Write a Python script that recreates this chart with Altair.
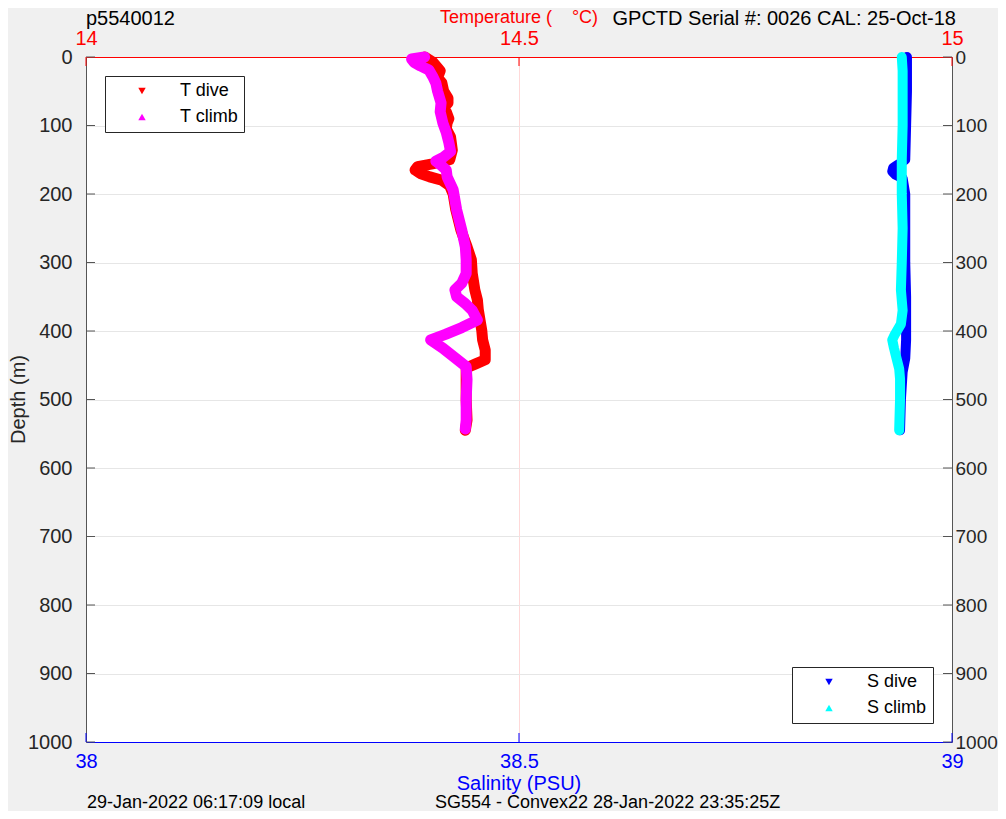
import altair as alt
import pandas as pd

FONT = "Liberation Sans"

# ---- axis ticks ----
depth_ticks = [0, 100, 200, 300, 400, 500, 600, 700, 800, 900, 1000]
temp_ticks = [14, 14.5, 15]
sal_ticks = [38, 38.5, 39]

# ---- legend categories ----
t_series = ["T dive", "T climb"]
s_series = ["S dive", "S climb"]
t_colors = ["#ff0000", "#ff00ff"]
s_colors = ["#0000ff", "#00ffff"]
tri_shapes = ["triangle-down", "triangle-up"]

# ---- temperature, dive ----
t_dive_depth = [0, 8, 20, 30, 38, 50, 60, 67, 75, 80, 90, 96, 105, 117, 136, 150, 156, 160,
                165, 170, 175, 180, 188, 200, 223, 253, 277, 296, 316, 340, 355, 369, 384,
                399, 413, 428, 442, 448, 454, 471, 500, 530, 545]
t_dive_temp = [14.391, 14.401, 14.409, 14.406, 14.411, 14.413, 14.418, 14.418, 14.412, 14.416,
               14.419, 14.417, 14.416, 14.421, 14.423, 14.420, 14.400, 14.383, 14.380, 14.386,
               14.397, 14.411, 14.420, 14.424, 14.427, 14.433, 14.440, 14.445, 14.446, 14.449,
               14.452, 14.453, 14.455, 14.457, 14.458, 14.461, 14.461, 14.450, 14.439, 14.439,
               14.439, 14.440, 14.438]

# ---- temperature, climb ----
t_climb_depth = [0, 3, 8, 13, 19, 30, 38, 50, 67, 80, 96, 110, 125, 138, 146, 152, 158, 165,
                 175, 194, 223, 253, 277, 296, 316, 330, 340, 350, 360, 370, 384, 395, 405,
                 413, 425, 440, 452, 471, 500, 530, 543]
t_climb_temp = [14.391, 14.376, 14.379, 14.386, 14.396, 14.401, 14.404, 14.406, 14.410, 14.409,
                14.412, 14.416, 14.419, 14.421, 14.413, 14.404, 14.410, 14.416, 14.417, 14.424,
                14.428, 14.434, 14.438, 14.439, 14.439, 14.434, 14.426, 14.428, 14.438, 14.446,
                14.452, 14.434, 14.415, 14.398, 14.412, 14.427, 14.439, 14.440, 14.439, 14.439,
                14.438]

# ---- salinity, dive ----
s_dive_depth = [0, 50, 100, 150, 157, 162, 167, 172, 177, 200, 250, 300, 350, 390, 413, 440,
                460, 500, 545]
s_dive_sal = [38.948, 38.948, 38.947, 38.946, 38.938, 38.932, 38.931, 38.935, 38.943, 38.946,
              38.946, 38.946, 38.947, 38.947, 38.947, 38.946, 38.943, 38.941, 38.940]

# ---- salinity, climb ----
s_climb_depth = [0, 20, 50, 100, 150, 200, 250, 300, 340, 370, 390, 405, 413, 425, 440, 455,
                 470, 500, 545]
s_climb_sal = [38.942, 38.943, 38.943, 38.943, 38.942, 38.942, 38.943, 38.942, 38.941, 38.943,
               38.941, 38.934, 38.931, 38.933, 38.936, 38.939, 38.940, 38.940, 38.939]

W, H = 866, 685

td = pd.DataFrame({"depth": t_dive_depth, "temp": t_dive_temp, "series": "T dive"})
tc = pd.DataFrame({"depth": t_climb_depth, "temp": t_climb_temp, "series": "T climb"})
sd = pd.DataFrame({"depth": s_dive_depth, "sal": s_dive_sal, "series": "S dive"})
sc = pd.DataFrame({"depth": s_climb_depth, "sal": s_climb_sal, "series": "S climb"})
t_all = pd.concat([td, tc], ignore_index=True)
s_all = pd.concat([sd, sc], ignore_index=True)


def y_sc():
    return alt.Scale(domain=[0, 1000], reverse=True, nice=False, zero=False)


def t_sc():
    return alt.Scale(domain=[14, 15], nice=False, zero=False)


def s_sc():
    return alt.Scale(domain=[38, 39], nice=False, zero=False)


common_axis = dict(title=None, ticks=False, tickSize=0, labelFlush=False, labelOverlap=False,
                   labelFont=FONT, domainWidth=1)

y_left = alt.Y("depth:Q", scale=y_sc(),
               axis=alt.Axis(orient="left", values=depth_ticks, format="d", grid=True,
                             gridColor="#e6e6e6", labelPadding=14, labelColor="#262626",
                             domainColor="#555555", labelFontSize=20, **common_axis))
y_right = alt.Y("depth:Q", scale=y_sc(),
                axis=alt.Axis(orient="right", values=depth_ticks, format="d", grid=False,
                              labelPadding=3, labelColor="#262626", domainColor="#555555",
                              labelFontSize=19, **common_axis))
x_top = alt.X("temp:Q", scale=t_sc(),
              axis=alt.Axis(orient="top", values=temp_ticks, format="~g", grid=True,
                            gridColor="#ffd9d9", labelPadding=9, labelColor="#ff0000",
                            domainColor="#ff0000", labelFontSize=20, **common_axis))
x_bottom = alt.X("sal:Q", scale=s_sc(),
                 axis=alt.Axis(orient="bottom", values=sal_ticks, format="~g", grid=False,
                               labelPadding=9, labelColor="#0000ff",
                               domainColor="#0000ff", labelFontSize=20, **common_axis))


def y_plain():
    return alt.Y("depth:Q", scale=y_sc(), axis=None)


def xt_plain():
    return alt.X("temp:Q", scale=t_sc(), axis=None)


def xs_plain():
    return alt.X("sal:Q", scale=s_sc(), axis=None)


def make_legend(orient):
    return alt.Legend(orient=orient, offset=19, title=None, fillColor="white",
                      strokeColor="#262626", padding=6, rowPadding=8, symbolSize=55,
                      symbolOffset=22, labelOffset=29, labelFont=FONT, labelFontSize=18,
                      labelColor="#000000", symbolStrokeWidth=0, symbolOpacity=1)


# ---------- temperature ----------
t_dive_line = alt.Chart(td).mark_line(color="#ff0000", strokeWidth=11, strokeCap="round",
                                      strokeJoin="round").encode(
    x=x_top, y=y_left, order="depth:Q")
t_climb_line = alt.Chart(tc).mark_line(color="#ff00ff", strokeWidth=11, strokeCap="round",
                                       strokeJoin="round").encode(
    x=xt_plain(), y=y_plain(), order="depth:Q")
t_leg = alt.Chart(t_all).transform_filter("false").mark_point(filled=True).encode(
    x=xt_plain(), y=y_plain(),
    color=alt.Color("series:N", scale=alt.Scale(domain=t_series, range=t_colors),
                    legend=make_legend("top-left")),
    shape=alt.Shape("series:N", scale=alt.Scale(domain=t_series, range=tri_shapes),
                    legend=make_legend("top-left")))
left_ticks = alt.Chart(pd.DataFrame({"depth": depth_ticks})).mark_rule(
    color="#555555", strokeWidth=1).encode(y=y_plain(), x=alt.value(0), x2=alt.value(9))
top_ticks = alt.Chart(pd.DataFrame({"temp": temp_ticks})).mark_rule(
    color="#ff0000", strokeWidth=1).encode(x=xt_plain(), y=alt.value(0), y2=alt.value(9))

# ---------- salinity ----------
s_dive_line = alt.Chart(sd).mark_line(color="#0000ff", strokeWidth=10, strokeCap="round",
                                      strokeJoin="round").encode(
    x=x_bottom, y=y_right, order="depth:Q")
s_climb_line = alt.Chart(sc).mark_line(color="#00ffff", strokeWidth=10, strokeCap="round",
                                       strokeJoin="round").encode(
    x=xs_plain(), y=y_plain(), order="depth:Q")
s_leg = alt.Chart(s_all).transform_filter("false").mark_point(filled=True).encode(
    x=xs_plain(), y=y_plain(),
    color=alt.Color("series:N", scale=alt.Scale(domain=s_series, range=s_colors),
                    legend=make_legend("bottom-right")),
    shape=alt.Shape("series:N", scale=alt.Scale(domain=s_series, range=tri_shapes),
                    legend=make_legend("bottom-right")))
right_ticks = alt.Chart(pd.DataFrame({"depth": depth_ticks})).mark_rule(
    color="#555555", strokeWidth=1).encode(y=y_plain(), x=alt.value(W - 9), x2=alt.value(W))
bottom_ticks = alt.Chart(pd.DataFrame({"sal": sal_ticks})).mark_rule(
    color="#0000ff", strokeWidth=1).encode(x=xs_plain(), y=alt.value(H - 9), y2=alt.value(H))

# ---------- annotation texts ----------
one = pd.DataFrame({"k": [0]})


def txt(s, x, y, size, color="#000000", align="left", angle=0):
    return alt.Chart(one).mark_text(text=s, align=align, baseline="alphabetic", font=FONT,
                                    fontSize=size, color=color, angle=angle).encode(
        x=alt.value(x), y=alt.value(y))


texts = [
    txt("Temperature (\u00a0\u00a0\u00a0\u00a0°C)", W / 2, -34, 18, color="#ff0000",
        align="center"),
    txt("p5540012", 0, -32, 20),
    txt("GPCTD Serial #: 0026 CAL: 25-Oct-18", 870, -32, 20, align="right"),
    txt("Salinity (PSU)", W / 2, 733, 20, color="#0000ff", align="center"),
    txt("Depth (m)", -61, H / 2, 20, color="#262626", align="center", angle=270),
    txt("29-Jan-2022 06:17:09 local", 1, 751, 18),
    txt("SG554 - Convex22 28-Jan-2022 23:35:25Z", 349, 751, 18),
]

chart = alt.layer(
    t_dive_line, t_climb_line, s_dive_line, s_climb_line,
    left_ticks, top_ticks, right_ticks, bottom_ticks,
    t_leg, s_leg, *texts
).resolve_scale(
    x="independent", y="independent", color="independent", shape="independent"
).properties(
    width=W, height=H,
    autosize=alt.AutoSizeParams(type="none"),
    padding={"left": 78, "top": 49, "right": 46, "bottom": 69},
    background="#f0f0f0",
).configure(font=FONT).configure_view(fill="white", stroke=None)

chart.save("out.html", embed_options={"renderer": "svg", "actions": False})
